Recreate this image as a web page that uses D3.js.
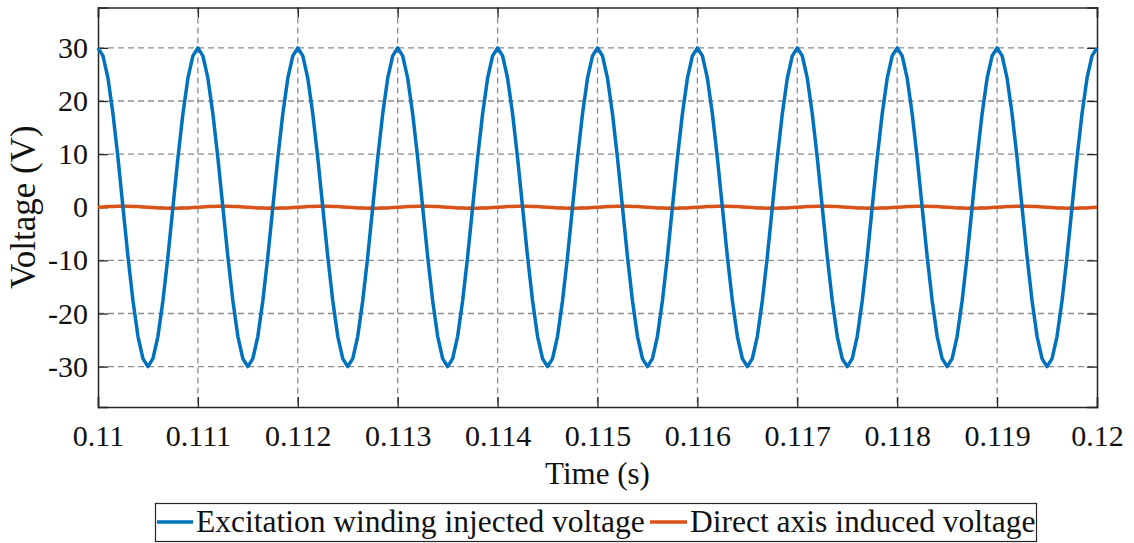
<!DOCTYPE html>
<html>
<head>
<meta charset="utf-8">
<script src="https://cdn.jsdelivr.net/npm/d3@7"></script>
<style>
  body { margin: 0; background: #fff; }
  text { font-family: "Liberation Serif", "Times New Roman", serif; fill: #111; }
</style>
</head>
<body>
<svg id="chart" width="1134" height="543"></svg>
<script>
// sample times: 0.11 s to 0.12 s, step 0.05 ms
var tStart = 0.11;
var tStep = 0.00005;

// excitation winding injected voltage (V)
var excitationV = [
  30, 28.5, 24.3, 17.6, 9.3, 0, -9.3, -17.6, -24.3, -28.5, -30, -28.5, -24.3, -17.6, -9.3, 0, 9.3, 17.6, 24.3, 28.5,
  30, 28.5, 24.3, 17.6, 9.3, 0, -9.3, -17.6, -24.3, -28.5, -30, -28.5, -24.3, -17.6, -9.3, 0, 9.3, 17.6, 24.3, 28.5,
  30, 28.5, 24.3, 17.6, 9.3, 0, -9.3, -17.6, -24.3, -28.5, -30, -28.5, -24.3, -17.6, -9.3, 0, 9.3, 17.6, 24.3, 28.5,
  30, 28.5, 24.3, 17.6, 9.3, 0, -9.3, -17.6, -24.3, -28.5, -30, -28.5, -24.3, -17.6, -9.3, 0, 9.3, 17.6, 24.3, 28.5,
  30, 28.5, 24.3, 17.6, 9.3, 0, -9.3, -17.6, -24.3, -28.5, -30, -28.5, -24.3, -17.6, -9.3, 0, 9.3, 17.6, 24.3, 28.5,
  30, 28.5, 24.3, 17.6, 9.3, 0, -9.3, -17.6, -24.3, -28.5, -30, -28.5, -24.3, -17.6, -9.3, 0, 9.3, 17.6, 24.3, 28.5,
  30, 28.5, 24.3, 17.6, 9.3, 0, -9.3, -17.6, -24.3, -28.5, -30, -28.5, -24.3, -17.6, -9.3, 0, 9.3, 17.6, 24.3, 28.5,
  30, 28.5, 24.3, 17.6, 9.3, 0, -9.3, -17.6, -24.3, -28.5, -30, -28.5, -24.3, -17.6, -9.3, 0, 9.3, 17.6, 24.3, 28.5,
  30, 28.5, 24.3, 17.6, 9.3, 0, -9.3, -17.6, -24.3, -28.5, -30, -28.5, -24.3, -17.6, -9.3, 0, 9.3, 17.6, 24.3, 28.5,
  30, 28.5, 24.3, 17.6, 9.3, 0, -9.3, -17.6, -24.3, -28.5, -30, -28.5, -24.3, -17.6, -9.3, 0, 9.3, 17.6, 24.3, 28.5,
  30
];

// direct axis induced voltage (V), small ripple around zero
var directAxisV = [
  0, 0.06, 0.12, 0.16, 0.19, 0.2, 0.19, 0.16, 0.12, 0.06, 0, -0.06, -0.12, -0.16, -0.19, -0.2, -0.19, -0.16, -0.12, -0.06,
  0, 0.06, 0.12, 0.16, 0.19, 0.2, 0.19, 0.16, 0.12, 0.06, 0, -0.06, -0.12, -0.16, -0.19, -0.2, -0.19, -0.16, -0.12, -0.06,
  0, 0.06, 0.12, 0.16, 0.19, 0.2, 0.19, 0.16, 0.12, 0.06, 0, -0.06, -0.12, -0.16, -0.19, -0.2, -0.19, -0.16, -0.12, -0.06,
  0, 0.06, 0.12, 0.16, 0.19, 0.2, 0.19, 0.16, 0.12, 0.06, 0, -0.06, -0.12, -0.16, -0.19, -0.2, -0.19, -0.16, -0.12, -0.06,
  0, 0.06, 0.12, 0.16, 0.19, 0.2, 0.19, 0.16, 0.12, 0.06, 0, -0.06, -0.12, -0.16, -0.19, -0.2, -0.19, -0.16, -0.12, -0.06,
  0, 0.06, 0.12, 0.16, 0.19, 0.2, 0.19, 0.16, 0.12, 0.06, 0, -0.06, -0.12, -0.16, -0.19, -0.2, -0.19, -0.16, -0.12, -0.06,
  0, 0.06, 0.12, 0.16, 0.19, 0.2, 0.19, 0.16, 0.12, 0.06, 0, -0.06, -0.12, -0.16, -0.19, -0.2, -0.19, -0.16, -0.12, -0.06,
  0, 0.06, 0.12, 0.16, 0.19, 0.2, 0.19, 0.16, 0.12, 0.06, 0, -0.06, -0.12, -0.16, -0.19, -0.2, -0.19, -0.16, -0.12, -0.06,
  0, 0.06, 0.12, 0.16, 0.19, 0.2, 0.19, 0.16, 0.12, 0.06, 0, -0.06, -0.12, -0.16, -0.19, -0.2, -0.19, -0.16, -0.12, -0.06,
  0, 0.06, 0.12, 0.16, 0.19, 0.2, 0.19, 0.16, 0.12, 0.06, 0, -0.06, -0.12, -0.16, -0.19, -0.2, -0.19, -0.16, -0.12, -0.06,
  0
];

var xTicks = [0.11, 0.111, 0.112, 0.113, 0.114, 0.115, 0.116, 0.117, 0.118, 0.119, 0.12];
var xTickLabels = ['0.11', '0.111', '0.112', '0.113', '0.114', '0.115', '0.116', '0.117', '0.118', '0.119', '0.12'];
var yTicks = [-30, -20, -10, 0, 10, 20, 30];
var yTickLabels = ['-30', '-20', '-10', '0', '10', '20', '30'];

var seriesNames = ['Excitation winding injected voltage', 'Direct axis induced voltage'];
var seriesColors = ['#0072BD', '#D95319'];

// plot box (named to avoid clashing with window.top)
var plotLeft = 98, plotRight = 1097, plotTop = 7.5, plotBottom = 407;

var svg = d3.select('#chart');

var x = d3.scaleLinear().domain([0.11, 0.12]).range([plotLeft, plotRight]);
var y = d3.scaleLinear().domain([-37.6, 37.6]).range([plotBottom, plotTop]);

var times = excitationV.map(function(v, i) { return tStart + i * tStep; });

// grid
var grid = svg.append('g');
grid.selectAll('line.gx')
  .data(xTicks.slice(1, -1))
  .enter().append('line')
  .attr('x1', function(d) { return x(d); })
  .attr('x2', function(d) { return x(d); })
  .attr('y1', plotTop).attr('y2', plotBottom)
  .attr('stroke', '#8c8c8c').attr('stroke-width', 1.3)
  .attr('stroke-dasharray', '6,4');
grid.selectAll('line.gy')
  .data(yTicks)
  .enter().append('line')
  .attr('x1', plotLeft).attr('x2', plotRight)
  .attr('y1', function(d) { return y(d); })
  .attr('y2', function(d) { return y(d); })
  .attr('stroke', '#8c8c8c').attr('stroke-width', 1.3)
  .attr('stroke-dasharray', '6,4');

// axes (ticks inward, on all four sides)
var axisBottom = d3.axisBottom(x).tickValues(xTicks).tickSize(-10).tickPadding(18)
  .tickFormat(function(d, i) { return xTickLabels[i]; });
var axisTop = d3.axisTop(x).tickValues(xTicks).tickSize(-10).tickFormat('');
var axisLeft = d3.axisLeft(y).tickValues(yTicks).tickSize(-10).tickPadding(10)
  .tickFormat(function(d, i) { return yTickLabels[i]; });
var axisRight = d3.axisRight(y).tickValues(yTicks).tickSize(-10).tickFormat('');

function styleAxis(g) {
  g.select('.domain').attr('stroke', '#262626').attr('stroke-width', 1.5);
  g.selectAll('.tick line').attr('stroke', '#262626').attr('stroke-width', 1.3);
  g.selectAll('text').attr('font-family', '"Liberation Serif", serif')
    .attr('font-size', 30).attr('fill', '#111');
}

svg.append('g').attr('transform', 'translate(0,' + plotBottom + ')').call(axisBottom).call(styleAxis);
svg.append('g').attr('transform', 'translate(0,' + plotTop + ')').call(axisTop).call(styleAxis);
svg.append('g').attr('transform', 'translate(' + plotLeft + ',0)').call(axisLeft).call(styleAxis);
svg.append('g').attr('transform', 'translate(' + plotRight + ',0)').call(axisRight).call(styleAxis);

// lines
var line = d3.line()
  .x(function(d, i) { return x(times[i]); })
  .y(function(d) { return y(d); });

svg.append('path').datum(directAxisV)
  .attr('fill', 'none').attr('stroke', seriesColors[1]).attr('stroke-width', 3.5)
  .attr('stroke-linejoin', 'round')
  .attr('d', line);

svg.append('path').datum(excitationV)
  .attr('fill', 'none').attr('stroke', seriesColors[0]).attr('stroke-width', 3.5)
  .attr('stroke-linejoin', 'round')
  .attr('d', line);

// axis titles
svg.append('text')
  .attr('x', (plotLeft + plotRight) / 2).attr('y', 484)
  .attr('text-anchor', 'middle').attr('font-size', 31)
  .text('Time (s)');

svg.append('text')
  .attr('transform', 'translate(35,' + y(0) + ') rotate(-90)')
  .attr('text-anchor', 'middle').attr('font-size', 35)
  .text('Voltage (V)');

// legend
var legend = svg.append('g');
legend.append('rect')
  .attr('x', 155.5).attr('y', 503.5).attr('width', 881).attr('height', 38)
  .attr('fill', '#fff').attr('stroke', '#262626').attr('stroke-width', 1.2);

var legendItems = [
  { x0: 157, x1: 193, tx: 196 },
  { x0: 650, x1: 687, tx: 690 }
];
legendItems.forEach(function(it, i) {
  legend.append('line')
    .attr('x1', it.x0).attr('x2', it.x1).attr('y1', 522).attr('y2', 522)
    .attr('stroke', seriesColors[i]).attr('stroke-width', 3.5);
  legend.append('text')
    .attr('x', it.tx).attr('y', 532)
    .attr('font-size', 31.5)
    .text(seriesNames[i]);
});
</script>
</body>
</html>
